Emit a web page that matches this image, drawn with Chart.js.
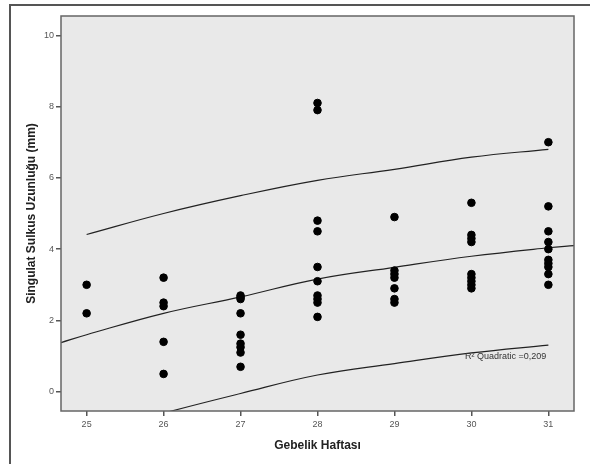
<!DOCTYPE html>
<html>
<head>
<meta charset="utf-8">
<script src="https://cdn.jsdelivr.net/npm/chart.js@4/dist/chart.umd.min.js"></script>
<style>
    html, body { margin: 0; padding: 0; background: #fff; }
    #wrap { width: 590px; height: 464px; position: relative; }
</style>
</head>
<body>
<div id="wrap"><canvas id="chart" width="590" height="464"></canvas></div>
<script>
const week25 = [3.0, 2.2];
const week26 = [3.2, 2.5, 2.4, 1.4, 0.5];
const week27 = [2.7, 2.65, 2.6, 2.2, 1.6, 1.35, 1.25, 1.1, 0.7];
const week28 = [8.1, 7.9, 4.8, 4.5, 3.5, 3.1, 2.7, 2.6, 2.5, 2.1];
const week29 = [4.9, 3.4, 3.3, 3.2, 2.9, 2.6, 2.5];
const week30 = [5.3, 4.4, 4.3, 4.2, 3.3, 3.2, 3.1, 3.0, 2.9];
const week31 = [7.0, 5.2, 4.5, 4.2, 4.0, 3.7, 3.6, 3.5, 3.3, 3.0];

// fit line and interval curves
const fitX = [24.667, 25, 26, 27, 28, 29, 30, 31, 31.333];
const fitY = [1.38, 1.6, 2.2, 2.66, 3.16, 3.49, 3.8, 4.04, 4.1];
const bandX = [25, 26, 27, 28, 29, 30, 31];
const upperY = [4.41, 5.0, 5.5, 5.93, 6.24, 6.58, 6.8];
const lowerY = [-1.2, -0.6, -0.05, 0.47, 0.79, 1.09, 1.31];

const xTicks = [25, 26, 27, 28, 29, 30, 31];
const yTicks = [0, 2, 4, 6, 8, 10];

const weeks = { 25: week25, 26: week26, 27: week27, 28: week28, 29: week29, 30: week30, 31: week31 };
const points = [];
Object.keys(weeks).forEach(w => {
    weeks[w].forEach(v => points.push({ x: Number(w), y: v }));
});

const toXY = (xs, ys) => xs.map((x, i) => ({ x: x, y: ys[i] }));

const lineStyle = {
    type: 'line',
    borderColor: '#222',
    borderWidth: 1.2,
    pointRadius: 0,
    fill: false,
    tension: 0.4
};

const framePlugin = {
    id: 'frame',
    beforeDraw(chart) {
        const { ctx, chartArea: a } = chart;
        ctx.save();
        ctx.fillStyle = '#fff';
        ctx.fillRect(0, 0, chart.width, chart.height);
        ctx.strokeStyle = '#555';
        ctx.lineWidth = 2;
        ctx.strokeRect(10, 5, chart.width + 20, chart.height + 20);
        ctx.fillStyle = '#e9e9e9';
        ctx.fillRect(a.left, a.top, a.right - a.left, a.bottom - a.top);
        ctx.restore();
    },
    afterDraw(chart) {
        const { ctx, chartArea: a } = chart;
        ctx.save();
        ctx.strokeStyle = '#666';
        ctx.lineWidth = 1.5;
        ctx.strokeRect(a.left, a.top, a.right - a.left, a.bottom - a.top);
        ctx.fillStyle = '#333';
        ctx.font = '9px "Liberation Sans", Arial, sans-serif';
        ctx.textBaseline = 'middle';
        ctx.fillText('R² Quadratic =0,209', 465, 357);
        ctx.restore();
    }
};

new Chart(document.getElementById('chart'), {
    type: 'scatter',
    data: {
        datasets: [
            {
                data: points,
                backgroundColor: '#000',
                borderColor: '#000',
                pointRadius: 3.8,
                pointHoverRadius: 3.8
            },
            Object.assign({ data: toXY(fitX, fitY) }, lineStyle),
            Object.assign({ data: toXY(bandX, upperY) }, lineStyle),
            Object.assign({ data: toXY(bandX, lowerY) }, lineStyle)
        ]
    },
    options: {
        responsive: false,
        animation: false,
        events: [],
        layout: { padding: { top: 16, right: 16, left: 0, bottom: 0 } },
        plugins: {
            legend: { display: false },
            tooltip: { enabled: false }
        },
        scales: {
            x: {
                type: 'linear',
                min: 24.667,
                max: 31.333,
                afterBuildTicks: scale => { scale.ticks = xTicks.map(v => ({ value: v })); },
                afterFit: scale => { scale.height = 53; },
                grid: { drawOnChartArea: false, tickLength: 5, color: '#555', lineWidth: 1.5 },
                border: { display: false },
                ticks: {
                    color: '#555',
                    padding: 3,
                    font: { family: '"Liberation Sans", Arial, sans-serif', size: 9 }
                },
                title: {
                    display: true,
                    text: 'Gebelik Haftası',
                    color: '#222',
                    padding: { top: 4, bottom: 11 },
                    font: { family: '"Liberation Sans", Arial, sans-serif', size: 12, weight: 'bold' }
                }
            },
            y: {
                type: 'linear',
                min: -0.54,
                max: 10.54,
                afterBuildTicks: scale => { scale.ticks = yTicks.map(v => ({ value: v })); },
                afterFit: scale => { scale.width = 61; },
                grid: { drawOnChartArea: false, tickLength: 5, color: '#555', lineWidth: 1.5 },
                border: { display: false },
                ticks: {
                    color: '#555',
                    padding: 2,
                    font: { family: '"Liberation Sans", Arial, sans-serif', size: 9 }
                },
                title: {
                    display: true,
                    text: 'Singulat Sulkus Uzunluğu (mm)',
                    color: '#222',
                    padding: { top: 24 },
                    font: { family: '"Liberation Sans", Arial, sans-serif', size: 12, weight: 'bold' }
                }
            }
        }
    },
    plugins: [framePlugin]
});
</script>
</body>
</html>
